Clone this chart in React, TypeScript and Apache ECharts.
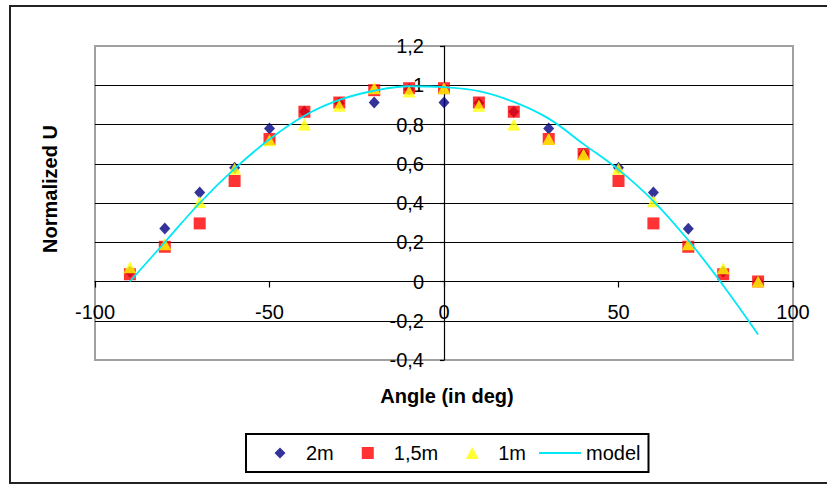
import React, { useEffect, useRef } from "react";
import * as echarts from "echarts";

const angles = [-90, -80, -70, -60, -50, -40, -30, -20, -10, 0, 10, 20, 30, 40, 50, 60, 70, 80, 90];
const u2m = [0.05, 0.27, 0.453, 0.58, 0.78, 0.865, 0.91, 0.912, 0.98, 0.912, 0.91, 0.865, 0.78, 0.65, 0.58, 0.453, 0.269, 0.05, 0];
const u15m = [0.037, 0.177, 0.296, 0.512, 0.726, 0.865, 0.912, 0.975, 0.985, 0.985, 0.912, 0.865, 0.726, 0.65, 0.512, 0.296, 0.177, 0.037, 0];
const u1m = [0.073, 0.19, 0.405, 0.574, 0.72, 0.8, 0.895, 0.985, 0.968, 0.985, 0.895, 0.8, 0.726, 0.647, 0.574, 0.409, 0.19, 0.068, 0];
const modelAngles = [-90, -80, -70, -60, -50, -40, -30, -20, -10, 0, 10, 20, 30, 40, 50, 60, 70, 80, 90];
const modelValues = [0, 0.2, 0.4, 0.575, 0.725, 0.845, 0.925, 0.972, 0.995, 0.99, 0.97, 0.915, 0.83, 0.7, 0.57, 0.41, 0.21, -0.02, -0.27];
const seriesNames = ["2m", "1,5m", "1m", "model"];

const FONT = '"Liberation Sans", Arial, sans-serif';

const GRID = { left: 95, top: 46, width: 698, height: 314 };
const X_MIN = -100, X_MAX = 100, Y_MIN = -0.4, Y_MAX = 1.2;

// legend icon shapes inside a 42x12 box (tiny corner anchors keep the box size)
const ANCHORS = "M0,0 L0.01,0 L0,0.01 Z M42,12 L41.99,12 L42,11.99 Z ";
const ICON_DIAMOND = "path://" + ANCHORS + "M21,0.5 L26.5,6 L21,11.5 L15.5,6 Z";
const ICON_SQUARE = "path://" + ANCHORS + "M15,0 L27,0 L27,12 L15,12 Z";
const ICON_TRIANGLE = "path://" + ANCHORS + "M21,0 L27.5,12 L14.5,12 Z";
const ICON_LINE = "path://" + ANCHORS + "M0,5 L42,5 L42,7 L0,7 Z";

const pairs = (xs: number[], ys: number[]) => xs.map((x, i) => [x, ys[i]]);

export default function App() {
  const ref = useRef<HTMLDivElement>(null);
  useEffect(() => {
    const chart = echarts.init(ref.current!, null, { renderer: "svg" });
    // place the axes through the origin (Excel style) by offsetting them from the grid edges
    const yAxisOffset = -((0 - X_MIN) / (X_MAX - X_MIN)) * GRID.width;
    const xAxisOffset = -((0 - Y_MIN) / (Y_MAX - Y_MIN)) * GRID.height;
    chart.setOption({
      animation: false,
      backgroundColor: "#fff",
      grid: {
        left: GRID.left,
        top: GRID.top,
        width: GRID.width,
        height: GRID.height,
        show: true,
        borderColor: "#a0a0a0",
        borderWidth: 2,
        outerBoundsMode: "none",
      },
      xAxis: {
        type: "value",
        min: X_MIN,
        max: X_MAX,
        interval: 50,
        position: "bottom",
        offset: xAxisOffset,
        axisLine: { onZero: false, lineStyle: { color: "#000", width: 1.2 } },
        axisTick: { show: true, length: 6, lineStyle: { color: "#000", width: 1.2 } },
        axisLabel: { margin: 20, fontSize: 20, fontFamily: FONT, color: "#000" },
        splitLine: { show: false },
      },
      yAxis: {
        type: "value",
        min: Y_MIN,
        max: Y_MAX,
        interval: 0.2,
        position: "left",
        offset: yAxisOffset,
        axisLine: { show: true, onZero: false, lineStyle: { color: "#000", width: 1.2 } },
        axisTick: { show: true, length: 4, lineStyle: { color: "#000", width: 1.2 } },
        axisLabel: {
          margin: 20,
          fontSize: 20,
          fontFamily: FONT,
          color: "#000",
          padding: [6, 0, 0, 0],
          formatter: (v: number) => String(+v.toFixed(1)).replace(".", ","),
        },
        splitLine: {
          show: true,
          showMinLine: false,
          showMaxLine: false,
          lineStyle: { color: "#000", width: 1.2 },
        },
      },
      legend: {
        left: 246,
        top: 434,
        orient: "horizontal",
        data: [
          { name: seriesNames[0], icon: ICON_DIAMOND },
          { name: seriesNames[1], icon: ICON_SQUARE },
          { name: seriesNames[2], icon: ICON_TRIANGLE },
          { name: seriesNames[3], icon: ICON_LINE },
        ],
        borderColor: "#000",
        borderWidth: 2,
        padding: [9, 8, 9, 13],
        itemGap: 13,
        itemWidth: 42,
        itemHeight: 12,
        textStyle: { fontSize: 20, fontFamily: FONT, color: "#000" },
      },
      graphic: [
        {
          type: "rect",
          shape: { x: 10, y: 6, width: 840, height: 477 },
          style: { fill: "none", stroke: "#222", lineWidth: 2 },
          silent: true,
        },
        {
          type: "text",
          x: 50,
          y: 189,
          rotation: Math.PI / 2,
          style: {
            text: "Normalized U",
            font: `bold 20px ${FONT}`,
            fill: "#000",
            align: "center",
            verticalAlign: "middle",
          },
        },
        {
          type: "text",
          x: 447,
          y: 396,
          style: {
            text: "Angle (in deg)",
            font: `bold 20px ${FONT}`,
            fill: "#000",
            align: "center",
            verticalAlign: "middle",
          },
        },
      ],
      series: [
        {
          name: seriesNames[0],
          type: "scatter",
          symbol: "diamond",
          symbolSize: [11, 12],
          itemStyle: { color: "#000080" },
          data: pairs(angles, u2m),
        },
        {
          name: seriesNames[1],
          type: "scatter",
          symbol: "rect",
          symbolSize: 12,
          itemStyle: { color: "#ff0000" },
          data: pairs(angles, u15m),
        },
        {
          name: seriesNames[2],
          type: "scatter",
          symbol: "triangle",
          symbolSize: [13, 12],
          itemStyle: { color: "#ffff00" },
          data: pairs(angles, u1m),
        },
        {
          name: seriesNames[3],
          type: "line",
          smooth: 0.4,
          symbol: "none",
          showSymbol: false,
          lineStyle: { color: "#00e8f4", width: 1.8 },
          itemStyle: { color: "#00e8f4" },
          data: pairs(modelAngles, modelValues),
        },
      ],
    });
    return () => chart.dispose();
  }, []);
  return (
    <div
      ref={ref}
      style={{ position: "fixed", left: 0, top: 0, width: 827, height: 485, background: "#fff" }}
    />
  );
}
